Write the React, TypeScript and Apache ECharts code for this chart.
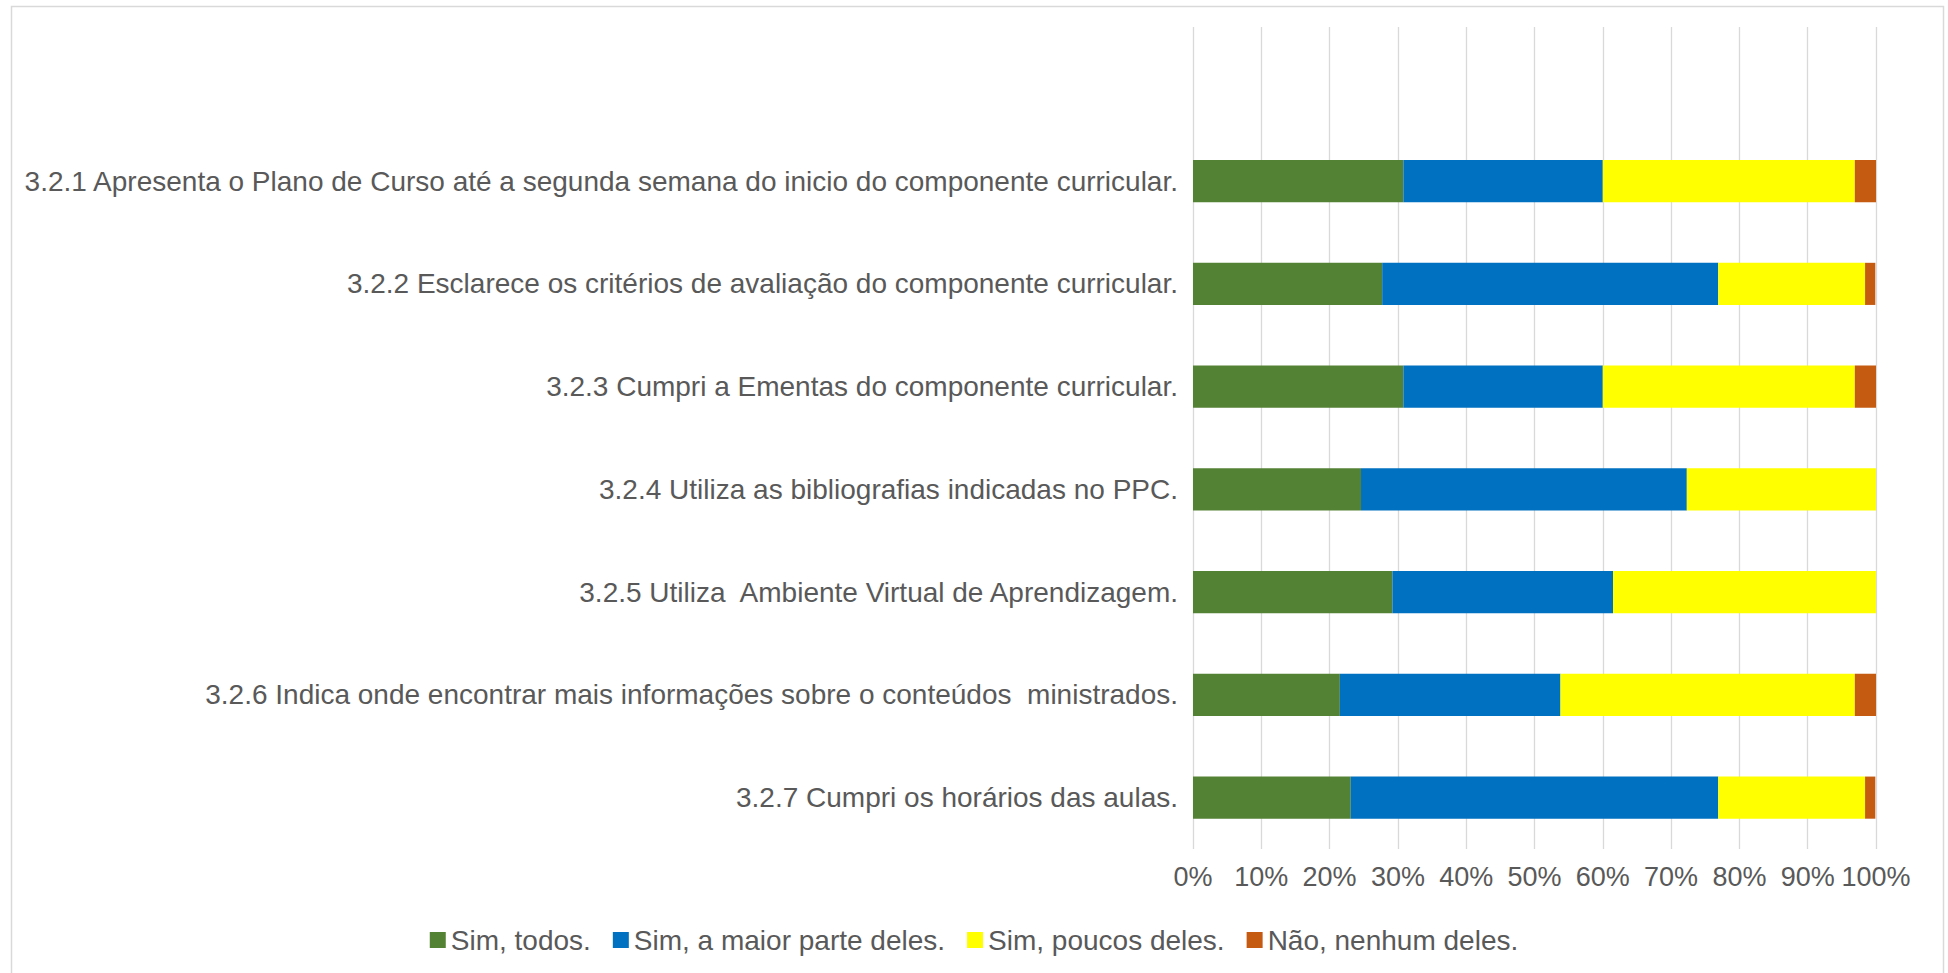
import React, { useEffect, useRef } from "react";
import * as echarts from "echarts";

const categories = [
  "",
  "3.2.1 Apresenta o Plano de Curso até a segunda semana do inicio do componente curricular.",
  "3.2.2 Esclarece os critérios de avaliação do componente curricular.",
  "3.2.3 Cumpri a Ementas do componente curricular.",
  "3.2.4 Utiliza as bibliografias indicadas no PPC.",
  "3.2.5 Utiliza  Ambiente Virtual de Aprendizagem.",
  "3.2.6 Indica onde encontrar mais informações sobre o conteúdos  ministrados.",
  "3.2.7 Cumpri os horários das aulas.",
];

const simTodos = [null, 30.8, 27.7, 30.8, 24.6, 29.2, 21.5, 23.1];
const simMaior = [null, 29.2, 49.2, 29.2, 47.7, 32.3, 32.3, 53.8];
const simPoucos = [null, 36.9, 21.5, 36.9, 27.7, 38.5, 43.1, 21.5];
const naoNenhum = [null, 3.1, 1.5, 3.1, 0, 0, 3.1, 1.5];

const seriesNames = ["Sim, todos.", "Sim, a maior parte deles.", "Sim, poucos deles.", "Não, nenhum deles."];
const seriesColors = ["#548235", "#0070C0", "#FFFF00", "#C55A11"];

const FONT = "'Liberation Sans Narrow', 'Liberation Sans', Arial, sans-serif";
const TEXT = "#595959";

export default function App() {
  const ref = useRef<HTMLDivElement>(null);
  useEffect(() => {
    document.body.style.margin = "0";
    if (!ref.current) return;
    const chart = echarts.init(ref.current, undefined, { renderer: "svg" });
    const values = [simTodos, simMaior, simPoucos, naoNenhum];
    chart.setOption({
      animation: false,
      backgroundColor: "#ffffff",
      textStyle: { fontFamily: FONT, color: TEXT },
      graphic: [
        {
          type: "rect",
          shape: { x: 11.5, y: 6.5, width: 1932, height: 990 },
          style: { fill: "none", stroke: "#D9D9D9", lineWidth: 1.5 },
          silent: true,
        },
      ],
      grid: { left: 1193, right: 72, top: 27, bottom: 124, containLabel: false },
      legend: {
        bottom: 14,
        left: "center",
        itemWidth: 16,
        itemHeight: 16,
        itemGap: 22,
        icon: "rect",
        textStyle: { fontFamily: FONT, fontSize: 28, color: TEXT },
        data: seriesNames,
      },
      xAxis: {
        type: "value",
        min: 0,
        max: 100,
        interval: 10,
        axisLine: { show: false },
        axisTick: { show: false },
        splitLine: { show: true, lineStyle: { color: "#D9D9D9", width: 1.3 } },
        axisLabel: {
          formatter: "{value}%",
          fontFamily: FONT,
          fontSize: 27,
          color: TEXT,
          margin: 14,
        },
      },
      yAxis: {
        type: "category",
        inverse: true,
        data: categories,
        axisLine: { show: false },
        axisTick: { show: false },
        axisLabel: { fontFamily: FONT, fontSize: 28, color: TEXT, margin: 15 },
      },
      series: values.map((v, i) => ({
        name: seriesNames[i],
        type: "bar",
        stack: "total",
        barCategoryGap: "59%",
        itemStyle: { color: seriesColors[i] },
        data: v,
      })),
    });
    return () => chart.dispose();
  }, []);
  return <div ref={ref} style={{ width: 1948, height: 973 }} />;
}
